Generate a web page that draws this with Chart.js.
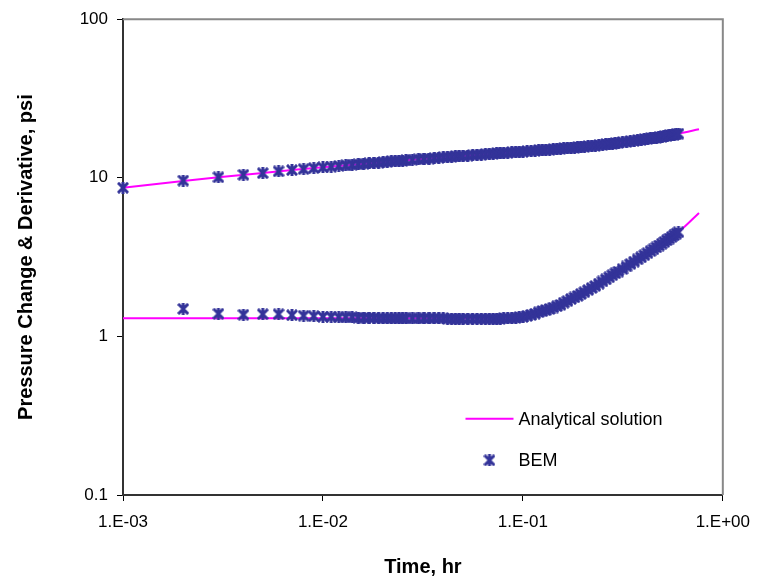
<!DOCTYPE html>
<html>
<head>
<meta charset="utf-8">
<script src="https://cdn.jsdelivr.net/npm/chart.js@4.4.0/dist/chart.umd.min.js"></script>
<style>
  body { margin: 0; background: #fff; }
  #wrap { width: 761px; height: 582px; }
</style>
</head>
<body>
<div id="wrap"><canvas id="pressureChart"></canvas></div>
<script>
// time, hr (BEM samples)
const bemTime = [
  0.001, 0.002, 0.003, 0.004, 0.005, 0.006, 0.007, 0.008, 0.009, 0.010,
  0.011, 0.012, 0.013, 0.014, 0.015, 0.016, 0.017, 0.018, 0.019, 0.020,
  0.021, 0.022, 0.023, 0.024, 0.025, 0.026,
  0.028, 0.030, 0.032, 0.034, 0.036, 0.038, 0.040, 0.042, 0.044, 0.046, 0.048, 0.050,
  0.053, 0.056, 0.059, 0.062, 0.065, 0.068, 0.071, 0.074, 0.077, 0.080,
  0.084, 0.088, 0.092, 0.096, 0.100,
  0.105, 0.110, 0.115, 0.120, 0.125, 0.130,
  0.136, 0.142, 0.148, 0.154, 0.160,
  0.167, 0.174, 0.181, 0.188, 0.195,
  0.203, 0.212, 0.221, 0.230,
  0.240, 0.250, 0.260, 0.270, 0.280, 0.290,
  0.300, 0.315, 0.330, 0.345, 0.360, 0.375, 0.390, 0.405, 0.420, 0.435,
  0.450, 0.465, 0.480, 0.495, 0.510, 0.525, 0.540, 0.555, 0.570, 0.585, 0.600
];
const bemPressure = [
  8.65, 9.60, 10.08, 10.45, 10.70, 10.98, 11.18, 11.35, 11.51, 11.64,
  11.77, 11.88, 11.98, 12.08, 12.17, 12.25, 12.33, 12.41, 12.48, 12.54,
  12.61, 12.67, 12.73, 12.78, 12.83, 12.89,
  12.98, 13.07, 13.16, 13.23, 13.31, 13.38, 13.45, 13.51, 13.57, 13.63, 13.68, 13.74,
  13.81, 13.88, 13.95, 14.02, 14.08, 14.14, 14.19, 14.25, 14.30, 14.35,
  14.41, 14.47, 14.53, 14.58, 14.63,
  14.70, 14.76, 14.82, 14.88, 14.94, 15.00,
  15.06, 15.13, 15.19, 15.25, 15.31,
  15.38, 15.45, 15.52, 15.59, 15.66,
  15.73, 15.81, 15.89, 15.97,
  16.06, 16.15, 16.24, 16.33, 16.42, 16.51,
  16.60, 16.73, 16.86, 16.98, 17.10, 17.22, 17.34, 17.46, 17.58, 17.70,
  17.82, 17.94, 18.06, 18.18, 18.30, 18.41, 18.53, 18.64, 18.75, 18.86, 18.97
];
const bemDerivative = [
  null, 1.49, 1.39, 1.37, 1.38, 1.38, 1.36, 1.35, 1.34, 1.33,
  1.33, 1.32, 1.32, 1.32, 1.31, 1.31, 1.31, 1.31, 1.30, 1.30,
  1.30, 1.30, 1.30, 1.30, 1.30, 1.30,
  1.30, 1.30, 1.30, 1.30, 1.30, 1.30, 1.30, 1.29, 1.29, 1.29, 1.29, 1.29,
  1.29, 1.29, 1.29, 1.29, 1.29, 1.29, 1.29, 1.29, 1.29, 1.30,
  1.30, 1.30, 1.31, 1.32, 1.33,
  1.35, 1.37, 1.39, 1.42, 1.44, 1.46,
  1.49, 1.52, 1.55, 1.58, 1.63,
  1.67, 1.72, 1.76, 1.80, 1.85,
  1.90, 1.96, 2.02, 2.08,
  2.15, 2.22, 2.29, 2.36, 2.43, 2.50,
  2.56, 2.66, 2.76, 2.86, 2.96, 3.06, 3.15, 3.25, 3.35, 3.45,
  3.54, 3.64, 3.74, 3.84, 3.94, 4.04, 4.14, 4.24, 4.34, 4.44, 4.54
];

// analytical solution
const lineTime = [0.001, 0.002, 0.003, 0.005, 0.007, 0.01, 0.015, 0.02, 0.03, 0.05, 0.08,
  0.1, 0.12, 0.15, 0.2, 0.24, 0.3, 0.38, 0.47, 0.6, 0.76];
const linePressure = [8.65, 9.55, 10.08, 10.74, 11.18, 11.64, 12.17, 12.54, 13.07, 13.74, 14.35,
  14.64, 14.89, 15.22, 15.72, 16.08, 16.61, 17.28, 18.00, 19.01, 20.25];
const lineDerivative = [1.30, 1.30, 1.30, 1.30, 1.30, 1.30, 1.30, 1.30, 1.30, 1.30, 1.30,
  1.33, 1.42, 1.56, 1.88, 2.15, 2.56, 3.08, 3.66, 4.54, 6.0];

const xTicks = [0.001, 0.01, 0.1, 1];
const xTickLabels = ['1.E-03', '1.E-02', '1.E-01', '1.E+00'];
const yTicks = [0.1, 1, 10, 100];
const yTickLabels = ['0.1', '1', '10', '100'];

const FONT = '"Liberation Sans", Arial, sans-serif';
const MAGENTA = '#ff00ff';
const NAVY = '#333399';

function toPoints(xs, ys) {
  let pts = [];
  for (let i = 0; i < xs.length; i++) {
    if (ys[i] != null) pts.push({ x: xs[i], y: ys[i] });
  }
  return pts;
}

// excel-like star marker: X with a vertical stroke
function makeStar() {
  const c = document.createElement('canvas');
  c.width = 12; c.height = 12;
  const g = c.getContext('2d');
  g.strokeStyle = NAVY;
  g.lineWidth = 3;
  g.lineCap = 'square';
  g.beginPath();
  g.moveTo(2, 2); g.lineTo(10, 10);
  g.moveTo(10, 2); g.lineTo(2, 10);
  g.moveTo(6, 1.5); g.lineTo(6, 10.5);
  g.stroke();
  return c;
}
const star = makeStar();

const framePlugin = {
  id: 'frame',
  beforeDatasetsDraw(chart) {
    const { ctx, chartArea: a } = chart;
    ctx.save();
    ctx.strokeStyle = '#888';
    ctx.lineWidth = 2;
    ctx.beginPath();
    ctx.moveTo(a.left, a.top);
    ctx.lineTo(a.right, a.top);
    ctx.lineTo(a.right, a.bottom);
    ctx.stroke();
    ctx.restore();
  }
};

const legendPlugin = {
  id: 'insideLegend',
  afterDraw(chart) {
    const { ctx, chartArea: a } = chart;
    const w = a.right - a.left, h = a.bottom - a.top;
    const x0 = a.left + w * 0.571;
    const y1 = a.top + h * 0.84;
    const y2 = a.top + h * 0.927;
    const sets = chart.data.datasets;
    ctx.save();
    ctx.strokeStyle = MAGENTA;
    ctx.lineWidth = 2;
    ctx.beginPath();
    ctx.moveTo(x0, y1);
    ctx.lineTo(x0 + 48, y1);
    ctx.stroke();
    ctx.drawImage(star, x0 + 24 - 6, y2 - 6);
    ctx.fillStyle = '#000';
    ctx.font = '18px ' + FONT;
    ctx.textBaseline = 'middle';
    ctx.fillText(sets[2].label, x0 + 53, y1 + 1);
    ctx.fillText(sets[0].label, x0 + 53, y2 + 1);
    ctx.restore();
  }
};

const ctx = document.getElementById('pressureChart');
new Chart(ctx, {
  type: 'scatter',
  data: {
    datasets: [
      { label: 'BEM', data: toPoints(bemTime, bemPressure), pointStyle: star, pointRadius: 6,
        borderColor: NAVY, backgroundColor: NAVY, clip: false, order: 0 },
      { label: 'BEM', data: toPoints(bemTime, bemDerivative), pointStyle: star, pointRadius: 6,
        borderColor: NAVY, backgroundColor: NAVY, clip: false, order: 0 },
      { label: 'Analytical solution', data: toPoints(lineTime, linePressure), showLine: true,
        borderColor: MAGENTA, borderWidth: 2, pointRadius: 0, cubicInterpolationMode: 'monotone', clip: false, order: 1 },
      { label: 'Analytical solution', data: toPoints(lineTime, lineDerivative), showLine: true,
        borderColor: MAGENTA, borderWidth: 2, pointRadius: 0, cubicInterpolationMode: 'monotone', clip: false, order: 1 }
    ]
  },
  options: {
    responsive: true,
    maintainAspectRatio: false,
    animation: false,
    layout: { padding: { left: 0, top: 17, right: 36, bottom: 0 } },
    plugins: { legend: { display: false }, tooltip: { enabled: false } },
    scales: {
      x: {
        type: 'logarithmic', min: 0.001, max: 1,
        afterBuildTicks(s) { s.ticks = xTicks.map(v => ({ value: v })); },
        afterFit(s) { s.height = 87; },
        ticks: {
          color: '#000', font: { family: FONT, size: 17 }, padding: 11, maxRotation: 0,
          callback(v) { return xTickLabels[xTicks.indexOf(v)]; }
        },
        grid: { drawOnChartArea: false, drawTicks: true, tickLength: 6, color: '#000' },
        border: { display: true, color: '#333', width: 2 },
        title: { display: true, text: 'Time, hr', color: '#000',
          font: { family: FONT, size: 20, weight: 'bold' }, padding: { top: 0, bottom: 3 } }
      },
      y: {
        type: 'logarithmic', min: 0.1, max: 100,
        afterBuildTicks(s) { s.ticks = yTicks.map(v => ({ value: v })); },
        afterFit(s) { s.width = 123; },
        ticks: {
          color: '#000', font: { family: FONT, size: 17 }, padding: 9,
          callback(v) { return yTickLabels[yTicks.indexOf(v)]; }
        },
        grid: { drawOnChartArea: false, drawTicks: true, tickLength: 6, color: '#000' },
        border: { display: true, color: '#333', width: 2 },
        title: { display: true, text: 'Pressure Change & Derivative, psi', color: '#000',
          font: { family: FONT, size: 20, weight: 'bold' }, padding: { top: 14, bottom: 0 } }
      }
    }
  },
  plugins: [framePlugin, legendPlugin]
});
</script>
</body>
</html>
